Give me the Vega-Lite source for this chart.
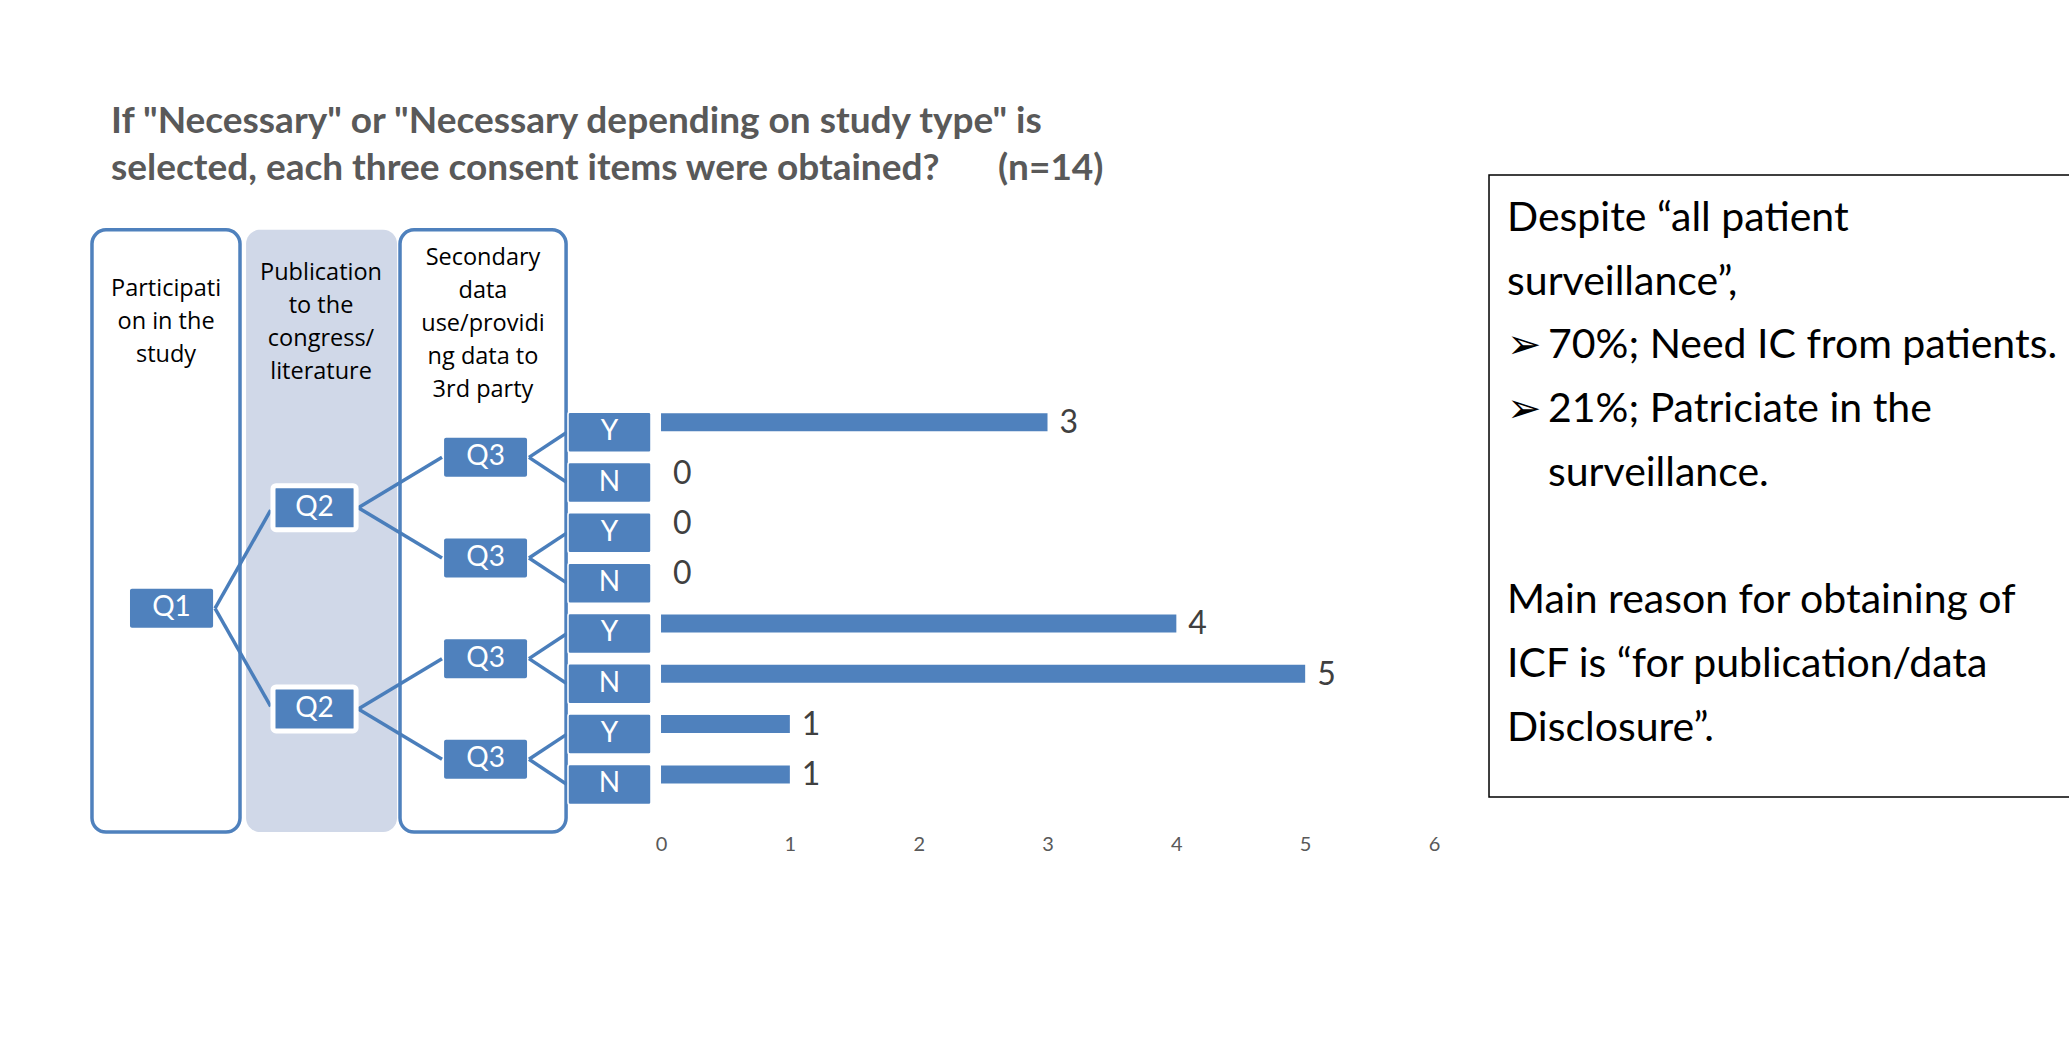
{
  "$schema": "https://vega.github.io/schema/vega-lite/v6.json",
  "width": 2069,
  "height": 1037,
  "autosize": {"type": "fit", "contains": "padding"},
  "padding": 0,
  "background": "white",
  "config": {
    "view": {"stroke": null},
    "axisX": {"domain": false, "ticks": false, "grid": false, "labelFont": "Lato", "labelFontSize": 20, "labelColor": "#595959", "labelPadding": 0, "labelBaseline": "middle", "offset": -193, "labelFlush": false}
  },
  "datasets": {
    "columns": [
      {"column": "Participation in the study", "x1": -4.417, "x2": -3.268, "y1": -4.022, "y2": 7.947, "shaded": false},
      {"column": "Publication to the congress/literature", "x1": -3.221, "x2": -2.049, "y1": -4.022, "y2": 7.947, "shaded": true},
      {"column": "Secondary data use/providing data to 3rd party", "x1": -2.026, "x2": -0.737, "y1": -4.022, "y2": 7.947, "shaded": false}
    ],
    "headers": [
      {"text": "Participati\non in the\nstudy", "x": -3.842, "y": -2.703},
      {"text": "Publication\nto the\ncongress/\nliterature", "x": -2.639, "y": -3.02},
      {"text": "Secondary\ndata\nuse/providi\nng data to\n3rd party", "x": -1.382, "y": -3.313}
    ],
    "nodes": [
      {"node": "Q1", "row": 3.5, "x1": -4.122, "x2": -3.477, "xc": -3.80},
      {"node": "Q2", "row": 1.5, "x1": -3.012, "x2": -2.367, "xc": -2.69},
      {"node": "Q2", "row": 5.5, "x1": -3.012, "x2": -2.367, "xc": -2.69},
      {"node": "Q3", "row": 0.5, "x1": -1.684, "x2": -1.040, "xc": -1.362},
      {"node": "Q3", "row": 2.5, "x1": -1.684, "x2": -1.040, "xc": -1.362},
      {"node": "Q3", "row": 4.5, "x1": -1.684, "x2": -1.040, "xc": -1.362},
      {"node": "Q3", "row": 6.5, "x1": -1.684, "x2": -1.040, "xc": -1.362}
    ],
    "links": [
      {"x1": -3.462, "y1": 3.5, "x2": -3.03, "y2": 1.55},
      {"x1": -3.462, "y1": 3.5, "x2": -3.03, "y2": 5.45},
      {"x1": -2.35, "y1": 1.5, "x2": -1.70, "y2": 0.5},
      {"x1": -2.35, "y1": 1.5, "x2": -1.70, "y2": 2.5},
      {"x1": -2.35, "y1": 5.5, "x2": -1.70, "y2": 4.5},
      {"x1": -2.35, "y1": 5.5, "x2": -1.70, "y2": 6.5},
      {"x1": -1.025, "y1": 0.5, "x2": -0.73, "y2": 0},
      {"x1": -1.025, "y1": 0.5, "x2": -0.73, "y2": 1},
      {"x1": -1.025, "y1": 2.5, "x2": -0.73, "y2": 2},
      {"x1": -1.025, "y1": 2.5, "x2": -0.73, "y2": 3},
      {"x1": -1.025, "y1": 4.5, "x2": -0.73, "y2": 4},
      {"x1": -1.025, "y1": 4.5, "x2": -0.73, "y2": 5},
      {"x1": -1.025, "y1": 6.5, "x2": -0.73, "y2": 6},
      {"x1": -1.025, "y1": 6.5, "x2": -0.73, "y2": 7}
    ],
    "bars": [
      {"row": 0, "answer": "Y", "count": 3},
      {"row": 1, "answer": "N", "count": 0},
      {"row": 2, "answer": "Y", "count": 0},
      {"row": 3, "answer": "N", "count": 0},
      {"row": 4, "answer": "Y", "count": 4},
      {"row": 5, "answer": "N", "count": 5},
      {"row": 6, "answer": "Y", "count": 1},
      {"row": 7, "answer": "N", "count": 1}
    ],
    "title": [
      {"text": "If \"Necessary\" or \"Necessary depending on study type\" is", "x": -4.269, "y": -5.95},
      {"text": "selected, each three consent items were obtained?", "x": -4.269, "y": -5.006},
      {"text": "(n=14)", "x": 2.616, "y": -5.006}
    ],
    "notebox": [
      {"x1": 6.427, "x2": 11.3, "y1": -5.11, "y2": 7.249}
    ],
    "note": [
      {"text": "Despite “all patient", "x": 6.567, "y": -3.996},
      {"text": "surveillance”,", "x": 6.567, "y": -2.730},
      {"text": "➢", "x": 6.567, "y": -1.465},
      {"text": "70%; Need IC from patients.", "x": 6.885, "y": -1.465},
      {"text": "➢", "x": 6.567, "y": -0.199},
      {"text": "21%; Patriciate in the", "x": 6.885, "y": -0.199},
      {"text": "surveillance.", "x": 6.885, "y": 1.067},
      {"text": "Main reason for obtaining of", "x": 6.567, "y": 3.598},
      {"text": "ICF is “for publication/data", "x": 6.567, "y": 4.864},
      {"text": "Disclosure”.", "x": 6.567, "y": 6.130}
    ]
  },
  "layer": [
    {
      "data": {"name": "columns"},
      "transform": [{"filter": "datum.shaded"}],
      "mark": {"type": "rect", "cornerRadius": 14, "fill": "#D0D8E8", "strokeWidth": 0},
      "encoding": {
        "x": {"field": "x1", "type": "quantitative", "scale": {"domain": [-5.131, 10.929], "nice": false, "zero": false}, "axis": {"values": [0, 1, 2, 3, 4, 5, 6], "title": null}},
        "x2": {"field": "x2"},
        "y": {"field": "y1", "type": "quantitative", "scale": {"domain": [-8.49, 11.92], "reverse": true, "nice": false, "zero": false}, "axis": null},
        "y2": {"field": "y2"}
      }
    },
    {
      "data": {"name": "columns"},
      "transform": [{"filter": "!datum.shaded"}],
      "mark": {"type": "rect", "cornerRadius": 14, "fill": "white", "stroke": "#4F81BD", "strokeWidth": 3.5},
      "encoding": {
        "x": {"field": "x1", "type": "quantitative", "scale": {"domain": [-5.131, 10.929], "nice": false, "zero": false}, "axis": {"values": [0, 1, 2, 3, 4, 5, 6], "title": null}},
        "x2": {"field": "x2"},
        "y": {"field": "y1", "type": "quantitative", "scale": {"domain": [-8.49, 11.92], "reverse": true, "nice": false, "zero": false}, "axis": null},
        "y2": {"field": "y2"}
      }
    },
    {
      "data": {"name": "headers"},
      "mark": {"type": "text", "font": "Open Sans", "fontSize": 23.5, "color": "#000000", "align": "center", "baseline": "alphabetic", "lineBreak": "\n", "lineHeight": 33},
      "encoding": {
        "x": {"field": "x", "type": "quantitative", "scale": {"domain": [-5.131, 10.929], "nice": false, "zero": false}, "axis": {"values": [0, 1, 2, 3, 4, 5, 6], "title": null}},
        "y": {"field": "y", "type": "quantitative", "scale": {"domain": [-8.49, 11.92], "reverse": true, "nice": false, "zero": false}, "axis": null},
        "text": {"field": "text"}
      }
    },
    {
      "data": {"name": "links"},
      "mark": {"type": "rule", "color": "#4A7EBB", "strokeWidth": 3.5},
      "encoding": {
        "x": {"field": "x1", "type": "quantitative", "scale": {"domain": [-5.131, 10.929], "nice": false, "zero": false}, "axis": {"values": [0, 1, 2, 3, 4, 5, 6], "title": null}},
        "x2": {"field": "x2"},
        "y": {"field": "y1", "type": "quantitative", "scale": {"domain": [-8.49, 11.92], "reverse": true, "nice": false, "zero": false}, "axis": null},
        "y2": {"field": "y2"}
      }
    },
    {
      "data": {"name": "nodes"},
      "transform": [{"filter": "datum.node == 'Q2'"}],
      "mark": {"type": "bar", "orient": "horizontal", "height": 44, "color": "#4F81BD", "stroke": "white", "strokeWidth": 5, "cornerRadius": 3},
      "encoding": {
        "x": {"field": "x1", "type": "quantitative", "scale": {"domain": [-5.131, 10.929], "nice": false, "zero": false}, "axis": {"values": [0, 1, 2, 3, 4, 5, 6], "title": null}},
        "x2": {"field": "x2"},
        "y": {"field": "row", "type": "quantitative", "scale": {"domain": [-8.49, 11.92], "reverse": true, "nice": false, "zero": false}, "axis": null}
      }
    },
    {
      "data": {"name": "nodes"},
      "transform": [{"filter": "datum.node != 'Q2'"}],
      "mark": {"type": "bar", "orient": "horizontal", "height": 39, "color": "#4F81BD", "cornerRadius": 2},
      "encoding": {
        "x": {"field": "x1", "type": "quantitative", "scale": {"domain": [-5.131, 10.929], "nice": false, "zero": false}, "axis": {"values": [0, 1, 2, 3, 4, 5, 6], "title": null}},
        "x2": {"field": "x2"},
        "y": {"field": "row", "type": "quantitative", "scale": {"domain": [-8.49, 11.92], "reverse": true, "nice": false, "zero": false}, "axis": null}
      }
    },
    {
      "data": {"name": "nodes"},
      "mark": {"type": "text", "font": "Lato", "fontSize": 28, "color": "white", "align": "center", "baseline": "middle"},
      "encoding": {
        "x": {"field": "xc", "type": "quantitative", "scale": {"domain": [-5.131, 10.929], "nice": false, "zero": false}, "axis": {"values": [0, 1, 2, 3, 4, 5, 6], "title": null}},
        "y": {"field": "row", "type": "quantitative", "scale": {"domain": [-8.49, 11.92], "reverse": true, "nice": false, "zero": false}, "axis": null},
        "text": {"field": "node"}
      }
    },
    {
      "data": {"name": "bars"},
      "mark": {"type": "bar", "orient": "horizontal", "height": 40, "color": "#4F81BD", "stroke": "white", "strokeWidth": 1.5, "cornerRadius": 2},
      "encoding": {
        "x": {"datum": -0.722, "type": "quantitative", "scale": {"domain": [-5.131, 10.929], "nice": false, "zero": false}, "axis": {"values": [0, 1, 2, 3, 4, 5, 6], "title": null}},
        "x2": {"datum": -0.078},
        "y": {"field": "row", "type": "quantitative", "scale": {"domain": [-8.49, 11.92], "reverse": true, "nice": false, "zero": false}, "axis": null}
      }
    },
    {
      "data": {"name": "bars"},
      "mark": {"type": "text", "font": "Lato", "fontSize": 28, "color": "white", "align": "center", "baseline": "middle"},
      "encoding": {
        "x": {"datum": -0.40, "type": "quantitative", "scale": {"domain": [-5.131, 10.929], "nice": false, "zero": false}, "axis": {"values": [0, 1, 2, 3, 4, 5, 6], "title": null}},
        "y": {"field": "row", "type": "quantitative", "scale": {"domain": [-8.49, 11.92], "reverse": true, "nice": false, "zero": false}, "axis": null},
        "text": {"field": "answer"}
      }
    },
    {
      "data": {"name": "bars"},
      "mark": {"type": "bar", "orient": "horizontal", "height": 18, "yOffset": -10, "color": "#4F81BD"},
      "encoding": {
        "x": {"field": "count", "type": "quantitative", "scale": {"domain": [-5.131, 10.929], "nice": false, "zero": false}, "axis": {"values": [0, 1, 2, 3, 4, 5, 6], "title": null}},
        "x2": {"datum": 0},
        "y": {"field": "row", "type": "quantitative", "scale": {"domain": [-8.49, 11.92], "reverse": true, "nice": false, "zero": false}, "axis": null}
      }
    },
    {
      "data": {"name": "bars"},
      "mark": {"type": "text", "font": "Lato", "fontSize": 32, "color": "#404040", "align": "left", "baseline": "middle", "dx": 12, "yOffset": -9},
      "encoding": {
        "x": {"field": "count", "type": "quantitative", "scale": {"domain": [-5.131, 10.929], "nice": false, "zero": false}, "axis": {"values": [0, 1, 2, 3, 4, 5, 6], "title": null}},
        "y": {"field": "row", "type": "quantitative", "scale": {"domain": [-8.49, 11.92], "reverse": true, "nice": false, "zero": false}, "axis": null},
        "text": {"field": "count"}
      }
    },
    {
      "data": {"name": "title"},
      "mark": {"type": "text", "font": "Lato", "fontWeight": "bold", "fontSize": 37, "color": "#595959", "align": "left", "baseline": "alphabetic"},
      "encoding": {
        "x": {"field": "x", "type": "quantitative", "scale": {"domain": [-5.131, 10.929], "nice": false, "zero": false}, "axis": {"values": [0, 1, 2, 3, 4, 5, 6], "title": null}},
        "y": {"field": "y", "type": "quantitative", "scale": {"domain": [-8.49, 11.92], "reverse": true, "nice": false, "zero": false}, "axis": null},
        "text": {"field": "text"}
      }
    },
    {
      "data": {"name": "notebox"},
      "mark": {"type": "rect", "fill": "white", "stroke": "#000000", "strokeWidth": 1.5, "clip": true},
      "encoding": {
        "x": {"field": "x1", "type": "quantitative", "scale": {"domain": [-5.131, 10.929], "nice": false, "zero": false}, "axis": {"values": [0, 1, 2, 3, 4, 5, 6], "title": null}},
        "x2": {"field": "x2"},
        "y": {"field": "y1", "type": "quantitative", "scale": {"domain": [-8.49, 11.92], "reverse": true, "nice": false, "zero": false}, "axis": null},
        "y2": {"field": "y2"}
      }
    },
    {
      "data": {"name": "note"},
      "mark": {"type": "text", "font": "Lato", "fontSize": 41, "color": "#000000", "align": "left", "baseline": "alphabetic"},
      "encoding": {
        "x": {"field": "x", "type": "quantitative", "scale": {"domain": [-5.131, 10.929], "nice": false, "zero": false}, "axis": {"values": [0, 1, 2, 3, 4, 5, 6], "title": null}},
        "y": {"field": "y", "type": "quantitative", "scale": {"domain": [-8.49, 11.92], "reverse": true, "nice": false, "zero": false}, "axis": null},
        "text": {"field": "text"}
      }
    }
  ]
}
